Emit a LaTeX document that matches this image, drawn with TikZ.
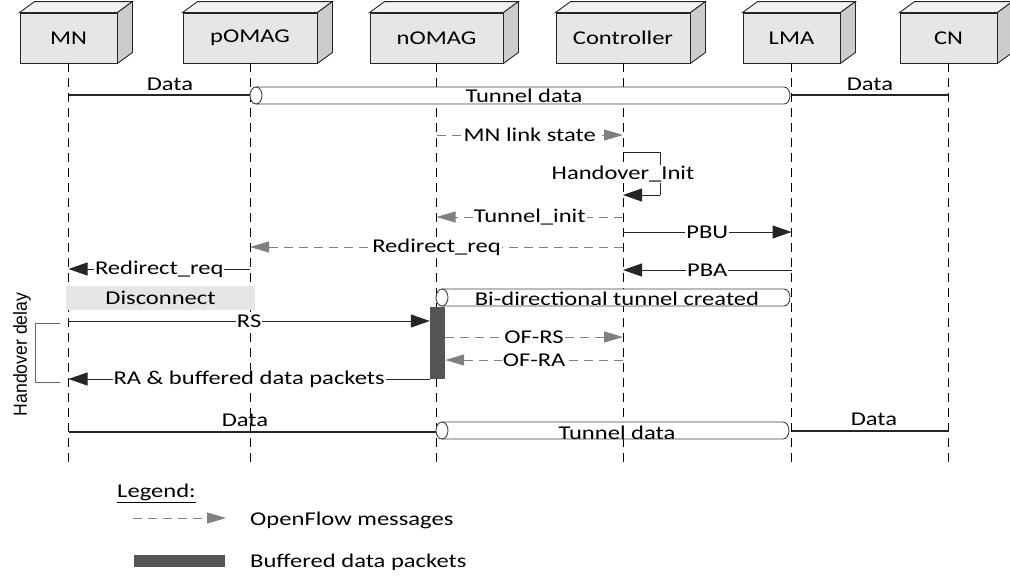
\documentclass[tikz,border=0pt]{standalone}
\usepackage{fontspec}
\setmainfont[FakeStretch=1.26]{Carlito}
\newfontfamily\narrowfont[FakeStretch=0.93]{Liberation Sans}
\usetikzlibrary{arrows.meta,calc}
\definecolor{boxfront}{HTML}{E6E6E6}
\definecolor{boxtop}{HTML}{F2F2F2}
\definecolor{boxside}{HTML}{CCCCCC}
\definecolor{ofgray}{HTML}{808080}
\definecolor{bufgray}{HTML}{555555}
\definecolor{tubegray}{HTML}{404040}
\newcommand\mytube[4]{%
  \fill[white] (#1+6,#3-#4) rectangle (#2-6,#3+#4);
  \draw[tubeline] (#1+6,#3-#4) -- (#2-6,#3-#4) arc[start angle=-90,end angle=90,x radius=6,y radius=#4] -- (#1+6,#3+#4);
  \draw[tubeline,fill=white] (#1+6,#3) ellipse[x radius=6,y radius=#4];}
\newcommand\mybox[1]{%
  \draw[boxedge,fill=boxtop] (#1.north west) -- ++(15,-11) -- ($(#1.north east)+(15,-11)$) -- (#1.north east) -- cycle;
  \draw[boxedge,fill=boxside] (#1.north east) -- ++(15,-11) -- ($(#1.south east)+(15,-11)$) -- (#1.south east) -- cycle;}
\begin{document}
\begin{tikzpicture}[x=1pt,y=-1pt,
  font=\fontsize{19.5}{21}\selectfont,
  boxedge/.style={draw=black!85,line width=0.9pt},
  box/.style={boxedge,fill=boxfront,minimum height=50pt,inner sep=0pt},
  lifeline/.style={draw=black,line width=0.8pt,dash pattern=on 9pt off 6pt},
  msg/.style={draw=black!85,line width=1pt,-{Triangle[length=19pt,width=13pt]}},
  plain/.style={draw=black!85,line width=1pt},
  ofmsg/.style={draw=ofgray,line width=1pt,dash pattern=on 9pt off 6pt,-{Triangle[length=19pt,width=11pt,fill=ofgray]}},
  lbl/.style={fill=white,inner sep=1pt},
  datal/.style={draw=black!85,line width=2.4pt},
  tubeline/.style={draw=tubegray,line width=0.9pt},
  txt/.style={inner sep=0pt,anchor=base},
  bracket/.style={draw=black!60,line width=0.9pt}]
\useasboundingbox (0,0) rectangle (1010,581);

% entities
\node[box,minimum width=97pt]  (MN)   at (68.5,38) {MN};
\node[box,minimum width=134pt] (pOMAG) at (250,38) {pOMAG};
\node[box,minimum width=133pt] (nOMAG) at (436.5,38) {nOMAG};
\node[box,minimum width=134pt] (Ctrl)  at (623,38) {Controller};
\node[box,minimum width=97pt]  (LMA)   at (791.5,38) {LMA};
\node[box,minimum width=97pt]  (CN)    at (948.5,38) {CN};
\mybox{MN}\mybox{pOMAG}\mybox{nOMAG}\mybox{Ctrl}\mybox{LMA}\mybox{CN}

% lifelines
\foreach \n in {MN,pOMAG,nOMAG,Ctrl,LMA,CN}{
  \draw[lifeline] (\n.south) -- (\n.south |- 0,466);}

% disconnect box
\node[fill=boxfront,minimum width=189pt,minimum height=24pt,inner sep=0pt] (disc) at (160.5,298) {Disconnect};

% top data
\draw[datal] (MN |- 0,95) -- (pOMAG |- 0,95);
\draw[datal] (LMA |- 0,95) -- (CN |- 0,95);
\node[txt] (d1) at (170,90) {Data};
\node[txt] (d2) at (870,90) {Data};
\mytube{250}{790}{95.5}{8.5}
\node[txt] (t1) at (524,102) {Tunnel data};

% MN link state
\draw[ofmsg] (nOMAG |- 0,135) -- node[lbl] {MN link state} (Ctrl |- 0,135);
% Handover_Init loop
\coordinate (hA) at (660,152);
\coordinate (hB) at (660,195);
\draw[plain] (Ctrl |- 0,152) -- (hA) -- (hB);
\draw[msg] (hB) -- (Ctrl |- 0,195);
\node[lbl] (hi) at (623,174) {Handover\_Init};
% Tunnel_init
\draw[ofmsg] (Ctrl |- 0,217) -- node[lbl] {Tunnel\_init} (nOMAG |- 0,217);
% PBU
\draw[msg] (Ctrl |- 0,232) -- node[lbl] {PBU} (LMA |- 0,232);
% Redirect_req (OF)
\draw[ofmsg] (Ctrl |- 0,247) -- node[lbl] {Redirect\_req} (pOMAG |- 0,247);
% Redirect_req
\draw[msg] (pOMAG |- 0,269) -- node[lbl] {Redirect\_req} (MN |- 0,269);
% PBA
\draw[msg] (LMA |- 0,270) -- node[lbl] {PBA} (Ctrl |- 0,270);

% bi-directional tunnel
\mytube{436}{790}{297.5}{8.5}
\node[txt] (bt) at (617,305) {Bi-directional tunnel created};

% buffer bar
\node[fill=bufgray,minimum width=15pt,minimum height=72pt,inner sep=0pt] (buf) at (437.5,343) {};
\draw[msg] (MN |- 0,321) -- node[lbl] {RS} (buf.west |- 0,321);
\draw[ofmsg] (buf.east |- 0,337) -- node[lbl] {OF-RS} (Ctrl |- 0,337);
\draw[ofmsg] (Ctrl |- 0,360) -- node[lbl] {OF-RA} (buf.east |- 0,360);
\draw[msg] (buf.west |- 0,379) -- node[lbl] {RA \& buffered data packets} (MN |- 0,379);

% handover delay bracket
\coordinate (b1) at (60,323);
\coordinate (b2) at (35,323);
\coordinate (b3) at (35,382);
\coordinate (b4) at (60,382);
\draw[bracket] (b1) -- (b2) -- (b3) -- (b4);
\node[rotate=90,inner sep=0pt,anchor=base,font=\narrowfont\fontsize{19}{21}\selectfont] (hd) at (27,354.5) {Handover delay};

% bottom data
\draw[datal] (MN |- 0,432) -- (nOMAG |- 0,432);
\draw[datal] (LMA |- 0,431) -- (CN |- 0,431);
\node[txt] (d3) at (245,426) {Data};
\node[txt] (d4) at (874,425) {Data};
\mytube{436}{789}{430.5}{8.5}
\node[txt] (t2) at (617,439) {Tunnel data};

% legend
\node[txt,anchor=base west] (lg) at (117,497) {\underline{Legend:}};
\coordinate (lgA) at (133,518);
\coordinate (lgB) at (226,518);
\draw[ofmsg] (lgA) -- (lgB);
\node[txt,anchor=base west] (lg1) at (250,525) {OpenFlow messages};
\node[fill=bufgray,minimum width=91pt,minimum height=12pt,inner sep=0pt] (lgbar) at (179.5,561) {};
\node[txt,anchor=base west] (lg2) at (250,567) {Buffered data packets};
\end{tikzpicture}
\end{document}
